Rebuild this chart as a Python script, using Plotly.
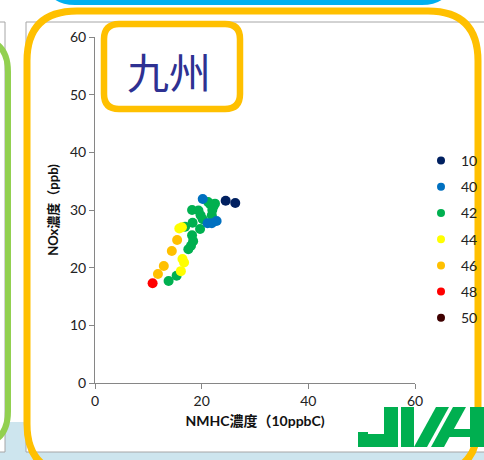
import plotly.graph_objects as go

# NMHC (10ppbC) vs NOx (ppb) by group
groups = ["10", "40", "42", "44", "46", "48", "50"]
colors = ["#002060", "#0070C0", "#00B050", "#FFFF00", "#FFC000", "#FF0000", "#3F0000"]

nmhc_10 = [24.5, 26.3]
nox_10 = [31.6, 31.2]

nmhc_40 = [20.2, 21.1, 21.9, 22.8]
nox_40 = [31.9, 27.7, 27.7, 28.1]

nmhc_42 = [13.8, 15.3, 17.5, 18.0, 18.4, 18.2, 16.9, 18.3, 19.7, 18.2,
           19.4, 19.8, 20.2, 21.9, 21.6, 22.2, 22.5, 21.2, 22.0]
nox_42 = [17.7, 18.6, 23.2, 23.8, 24.6, 25.6, 27.1, 27.8, 26.7, 30.0,
          29.9, 29.1, 28.4, 29.1, 31.0, 30.6, 31.1, 31.4, 30.0]

nmhc_44 = [16.1, 16.4, 16.7, 15.8, 16.3]
nox_44 = [19.4, 21.5, 20.9, 26.8, 27.0]

nmhc_46 = [11.8, 12.9, 14.4, 15.4]
nox_46 = [18.9, 20.3, 22.9, 24.8]

nmhc_48 = [10.8]
nox_48 = [17.3]

nmhc_50 = []
nox_50 = []

x_ticks = [0, 20, 40, 60]
y_ticks = [0, 10, 20, 30, 40, 50, 60]

series = {
    "10": (nmhc_10, nox_10),
    "40": (nmhc_40, nox_40),
    "42": (nmhc_42, nox_42),
    "44": (nmhc_44, nox_44),
    "46": (nmhc_46, nox_46),
    "48": (nmhc_48, nox_48),
    "50": (nmhc_50, nox_50),
}
draw_order = ["42", "40", "10", "46", "44", "48", "50"]

W, H = 484, 460
ML, MR, MT, MB = 95, 69, 37, 77
PW, PH = W - ML - MR, H - MT - MB

FONT = "Lato, 'Noto Sans CJK JP', sans-serif"


def px(x):
    return (x - ML) / PW


def py(y):
    return (H - MB - y) / PH


def rounded_path(x0, y0, x1, y1, r):
    pts = [
        ("M", x0 + r, y0), ("L", x1 - r, y0), ("Q", x1, y0, x1, y0 + r),
        ("L", x1, y1 - r), ("Q", x1, y1, x1 - r, y1), ("L", x0 + r, y1),
        ("Q", x0, y1, x0, y1 - r), ("L", x0, y0 + r), ("Q", x0, y0, x0 + r, y0),
    ]
    out = []
    for p in pts:
        cmd = p[0]
        coords = p[1:]
        s = []
        for i in range(0, len(coords), 2):
            s.append(f"{px(coords[i]):.5f},{py(coords[i + 1]):.5f}")
        out.append(cmd + " ".join(s))
    return " ".join(out) + " Z"


def poly_path(points):
    s = " L".join(f"{px(a):.5f},{py(b):.5f}" for a, b in points)
    return "M" + s + " Z"


fig = go.Figure()

for g in draw_order:
    xs, ys = series[g]
    fig.add_trace(go.Scatter(
        x=xs, y=ys, mode="markers", name=g, showlegend=False,
        marker=dict(color=colors[groups.index(g)], size=10, line=dict(width=0)),
        hoverinfo="skip",
    ))

# legend entries with smaller symbols
for g, c in zip(groups, colors):
    fig.add_trace(go.Scatter(
        x=[None], y=[None], mode="markers", name=g, legendgroup=g,
        marker=dict(color=c, size=8),
    ))

shapes = []
# light band along the bottom
shapes.append(dict(type="rect", xref="paper", yref="paper", layer="below",
                   x0=px(0), x1=px(W), y0=py(422), y1=py(H),
                   fillcolor="#CDE5EE", line=dict(width=0)))
# neighbouring panel on the left
shapes.append(dict(type="rect", xref="paper", yref="paper", layer="below",
                   x0=px(-20), x1=px(5), y0=py(22), y1=py(452),
                   fillcolor="white", line=dict(color="#A6A6A6", width=1)))
# chart panel
shapes.append(dict(type="rect", xref="paper", yref="paper", layer="below",
                   x0=px(26), x1=px(W + 20), y0=py(22), y1=py(452),
                   fillcolor="white", line=dict(color="#A6A6A6", width=1)))
# green frame at the left edge
shapes.append(dict(type="path", xref="paper", yref="paper", layer="above",
                   path=rounded_path(-60, 38, 8, 445, 34),
                   line=dict(color="#92D050", width=6)))
# cyan banner at the top
shapes.append(dict(type="path", xref="paper", yref="paper", layer="above",
                   path=rounded_path(45, -60, 452, 5, 30),
                   fillcolor="#00B0F0", line=dict(width=0)))
# orange frame around the chart
shapes.append(dict(type="path", xref="paper", yref="paper", layer="above",
                   path=rounded_path(27, 11, 478, 474, 50),
                   line=dict(color="#FFC000", width=7)))
# label box
shapes.append(dict(type="path", xref="paper", yref="paper", layer="above",
                   path=rounded_path(104, 24, 240, 109, 15),
                   fillcolor="white", line=dict(color="#FFC000", width=6.5)))

# JWA mark
logo_green = "#00AF50"
logo_parts = [
    [(384, 407), (398, 407), (398, 447), (358, 447), (358, 432), (368, 432), (368, 434), (384, 434)],
    [(401, 407), (414, 407), (414, 447), (401, 447)],
    [(414, 447), (427, 447), (449, 407), (436, 407)],
    [(431, 447), (444, 447), (466, 407), (453, 407)],
    [(470, 407), (484, 407), (484, 447), (470, 447)],
    [(452, 429), (470, 429), (470, 437), (447, 437)],
]
for part in logo_parts:
    shapes.append(dict(type="path", xref="paper", yref="paper", layer="above",
                       path=poly_path(part), fillcolor=logo_green, line=dict(width=0)))

axis_common = dict(
    showgrid=False, zeroline=False, showline=True, linecolor="#868686", linewidth=1,
    ticks="outside", ticklen=5, tickcolor="#868686",
    tickfont=dict(family=FONT, size=14, color="#222222"),
)

fig.update_layout(
    width=W, height=H,
    margin=dict(l=ML, r=MR, t=MT, b=MB, autoexpand=False),
    paper_bgcolor="white", plot_bgcolor="rgba(0,0,0,0)",
    xaxis=dict(range=[0, 60], tickvals=x_ticks, **axis_common,
               title=dict(text="<b>NMHC濃度（10ppbC)</b>", standoff=8,
                          font=dict(family=FONT, size=14, color="#111111"))),
    yaxis=dict(range=[0, 60], tickvals=y_ticks, **axis_common,
               title=dict(text="<b>NOx濃度（ppb)</b>", standoff=8,
                          font=dict(family=FONT, size=13, color="#111111"))),
    legend=dict(x=px(421), y=py(145), xanchor="left", yanchor="top",
                font=dict(family=FONT, size=14, color="#222222"),
                tracegroupgap=5, itemwidth=30, bgcolor="rgba(0,0,0,0)"),
    shapes=shapes,
    annotations=[dict(text="九州", xref="paper", yref="paper", x=px(169), y=py(70),
                      xanchor="center", yanchor="middle", showarrow=False,
                      font=dict(family="'Noto Sans CJK JP'", size=42, color="#2E3192"))],
    showlegend=True,
)

fig.write_html("out.html")
